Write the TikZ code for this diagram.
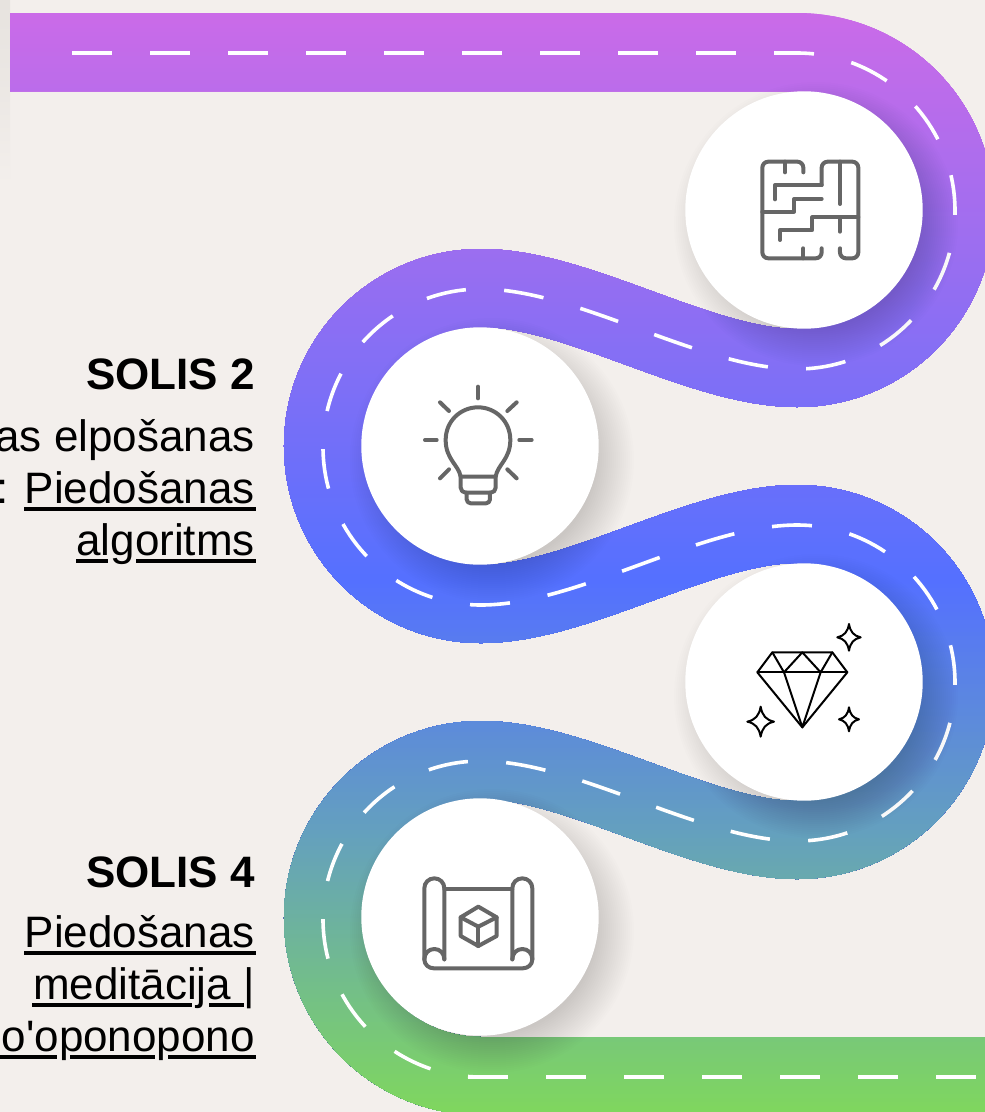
\documentclass[tikz,border=0pt]{standalone}
\usepackage{fontspec}
\setmainfont{Liberation Sans}
\newfontfamily\plainsans{Liberation Sans}
\definecolor{bgc}{RGB}{243,239,236}
\definecolor{stripc}{RGB}{231,227,223}
\definecolor{icong}{RGB}{102,102,102}
\definecolor{ga}{RGB}{203,107,232}
\definecolor{gb}{RGB}{155,110,240}
\definecolor{gc}{RGB}{84,112,255}
\definecolor{gd}{RGB}{100,160,190}
\definecolor{ge}{RGB}{128,216,92}
\tikzset{
  iconline/.style={draw=icong,line width=4pt,line cap=round,line join=round},
  gemline/.style={draw=black,line width=2pt,line cap=round,line join=round},
  roadline/.style={line width=78pt},
  laneline/.style={draw=white,line width=3.6pt,dash pattern=on 40pt off 38pt},
  lanecurve/.style={draw=white,line width=3.6pt,dash pattern=on 40pt off 38.385pt},
  disc/.style={fill=white},
  underbar/.style={fill=black},
  headtext/.style={anchor=base east,inner sep=0pt,font=\fontsize{44}{52}\selectfont\bfseries,text=black},
  bodytext/.style={anchor=base east,inner sep=0pt,font=\fontsize{44}{52}\selectfont,text=black},
}
\def\roadcurve{-- (797,52)
 .. controls (884.3,52) and (955,122.7) .. (955,210)
 .. controls (955,297.3) and (884.3,368) .. (797,368)
 .. controls (700,368) and (578,288) .. (481,288)
 .. controls (393.7,288) and (323,358.7) .. (323,446)
 .. controls (323,533.3) and (393.7,604) .. (481,604)
 .. controls (578,604) and (700,524) .. (797,524)
 .. controls (884.3,524) and (955,594.7) .. (955,682)
 .. controls (955,769.3) and (884.3,840) .. (797,840)
 .. controls (700,840) and (578,760) .. (481,760)
 .. controls (393.7,760) and (323,830.7) .. (323,918)
 .. controls (323,1005.3) and (393.7,1076) .. (481,1076)}
\begin{document}
\begin{tikzpicture}[x=1pt,y=-1pt]
\useasboundingbox (0,0) rectangle (985,1112);
\clip (0,0) rectangle (985,1112);
\fill[bgc] (0,0) rectangle (985,1112);
\shade[top color=stripc,bottom color=bgc,middle color=stripc!60!bgc] (0,0) rectangle (10,185);
% road with a vertical colour gradient
\foreach \ya/\yb/\ca/\cb in {8/250/ga/gb,250/580/gb/gc,580/830/gc/gd,830/1116/gd/ge}{
  \pgfmathsetmacro\yend{\yb-4}
  \pgfmathsetmacro\ynext{\ya+4}
  \foreach \yy in {\ya,\ynext,...,\yend}{
    \pgfmathsetmacro\pct{100*((\yb-\yy)/(\yb-\ya))}
    \colorlet{bandc}{\ca!\pct!\cb}
    \begin{scope}
      \clip (0,\yy) rectangle (985,1120);
      \draw[roadline,draw=bandc] (10,52) \roadcurve -- (1000,1076);
    \end{scope}
  }
}
\begin{scope}[shift={(0,1)}]
  \draw[laneline] (72,52) -- (774,52);
  \draw[lanecurve] (774,52) \roadcurve;
  \draw[laneline] (468,1076) -- (1000,1076);
\end{scope}
% shadows and discs
\foreach \cx/\cy in {804/210,480/446,804/682,480/917}{
  \foreach \r in {104,106,...,142}{
    \fill[black,opacity=0.006] (\cx+12,\cy+14) circle[radius=\r pt];
  }
  \fill[disc] (\cx,\cy) circle[radius=118.7pt];
}
% maze icon
\begin{scope}[shift={(730,140)},x=0.3333pt,y=-0.3333pt]
  \draw[iconline,rounded corners=6pt] (220,97) -- (220,65) -- (97,65) -- (97,355) -- (275,355) -- (275,325);
  \draw[iconline,rounded corners=6pt] (275,135) -- (275,65) -- (385,65) -- (385,355) -- (330,355) -- (330,325);
  \draw[iconline] (135,178) -- (135,135) -- (275,135);
  \draw[iconline] (165,65) -- (165,97);
  \draw[iconline] (220,355) -- (220,325);
  \draw[iconline] (330,65) -- (330,192);
  \draw[iconline] (97,215) -- (192,215) -- (192,177) -- (275,177);
  \draw[iconline] (385,232) -- (247,232) -- (247,270) -- (150,270) -- (150,300);
  \draw[iconline] (330,232) -- (330,275);
\end{scope}
% bulb icon
\begin{scope}[shift={(400,370)},x=0.3333pt,y=-0.3333pt]
  \draw[iconline] (234,50) -- (234,85);
  \draw[iconline] (120,97) -- (147,123);
  \draw[iconline] (350,97) -- (322,123);
  \draw[iconline] (75,210) -- (110,210);
  \draw[iconline] (358,210) -- (395,210);
  \draw[iconline] (120,325) -- (147,298);
  \draw[iconline] (350,325) -- (322,298);
  \draw[iconline] (182,320) .. controls (176,285) and (137,268) .. (137,210)
     .. controls (137,153) and (182,112) .. (234,112)
     .. controls (286,112) and (331,153) .. (331,210)
     .. controls (331,268) and (292,285) .. (287,320) -- cycle;
  \draw[iconline,rounded corners=5pt] (182,320) -- (182,368) -- (287,368) -- (287,320);
  \draw[iconline,rounded corners=4pt] (200,368) -- (200,400) -- (270,400) -- (270,368);
\end{scope}
% diamond icon
\begin{scope}[shift={(730,610)},x=0.3333pt,y=-0.3333pt]
  \draw[gemline] (127,127) -- (307,127) -- (352,187) -- (217,352) -- (82,187) -- cycle;
  \draw[gemline] (82,187) -- (352,187);
  \draw[gemline] (127,127) -- (162,187) -- (217,127) -- (272,187) -- (307,127);
  \draw[gemline] (162,187) -- (217,352) -- (272,187);
  \foreach \sx/\sy/\sw/\sh in {357/82/35/40,92/335/40/45,357/328/30/36}{
    \draw[gemline] (\sx,\sy-\sh)
      .. controls (\sx+0.12*\sw,\sy-0.4*\sh) and (\sx+0.4*\sw,\sy-0.12*\sh) .. (\sx+\sw,\sy)
      .. controls (\sx+0.4*\sw,\sy+0.12*\sh) and (\sx+0.12*\sw,\sy+0.4*\sh) .. (\sx,\sy+\sh)
      .. controls (\sx-0.12*\sw,\sy+0.4*\sh) and (\sx-0.4*\sw,\sy+0.12*\sh) .. (\sx-\sw,\sy)
      .. controls (\sx-0.4*\sw,\sy-0.12*\sh) and (\sx-0.12*\sw,\sy-0.4*\sh) .. (\sx,\sy-\sh) -- cycle;
  }
\end{scope}
% scroll icon
\begin{scope}[shift={(410,860)},x=0.3333pt,y=-0.3333pt]
  \draw[iconline] (103,298) -- (103,85) .. controls (103,68) and (90,55) .. (73,55)
     .. controls (56,55) and (43,68) .. (43,85) -- (43,298)
     .. controls (43,314) and (56,325) .. (72,325) -- (338,325)
     .. controls (354,325) and (367,314) .. (367,298) -- (367,85)
     .. controls (367,68) and (354,55) .. (337,55)
     .. controls (320,55) and (307,68) .. (307,85) -- (307,298);
  \draw[iconline] (103,298) .. controls (103,280) and (90,267) .. (73,267) .. controls (56,267) and (43,280) .. (43,298);
  \draw[iconline] (307,298) .. controls (307,280) and (320,267) .. (337,267) .. controls (354,267) and (367,280) .. (367,298);
  \draw[iconline] (103,88) -- (307,88);
  \draw[iconline] (205,140) -- (260,172) -- (260,228) -- (205,258) -- (152,228) -- (152,172) -- cycle;
  \draw[iconline] (152,172) -- (205,200) -- (260,172);
  \draw[iconline] (205,200) -- (205,258);
\end{scope}
% texts
\node[headtext] (h2) at (255,389) {SOLIS 2};
\node[bodytext] (b2a) at (255,451) {as elpošanas};
\node[bodytext] (b2b) at (255,503) {: Piedošanas};
\node[bodytext] (b2c) at (255,555) {algoritms};
\node[headtext] (h4) at (255,887) {SOLIS 4};
\node[bodytext] (b4a) at (255,947) {Piedošanas};
\node[bodytext] (b4b) at (255,999) {meditācija |};
\node[bodytext] (b4c) at (255,1051) {{\plainsans o'oponopono}};
% underlines, broken around descenders
\fill[underbar] (24,507) rectangle (256,511);
\fill[underbar] (76,559) rectangle (108.3,563);
\fill[underbar] (135.7,559) rectangle (256,563);
\fill[underbar] (24,951) rectangle (256,955);
\fill[underbar] (32.3,1003) rectangle (192.3,1007);
\fill[underbar] (209,1003) rectangle (244,1007);
\fill[underbar] (0,1055) rectangle (56.7,1059);
\fill[underbar] (70,1055) rectangle (155,1059);
\fill[underbar] (168.3,1055) rectangle (256,1059);
\end{tikzpicture}
\end{document}
